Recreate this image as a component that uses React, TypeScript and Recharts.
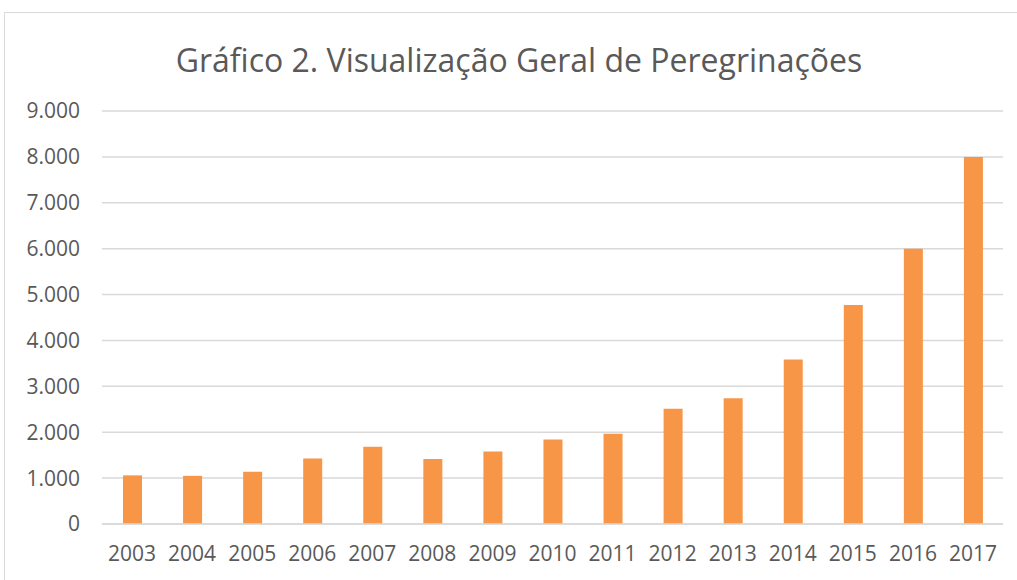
import React from "react";
import { BarChart, Bar, XAxis, YAxis, CartesianGrid } from "recharts";

const years = ["2003", "2004", "2005", "2006", "2007", "2008", "2009", "2010", "2011", "2012", "2013", "2014", "2015", "2016", "2017"];
const peregrinacoes = [1060, 1050, 1140, 1430, 1685, 1415, 1580, 1840, 1965, 2510, 2740, 3585, 4775, 6000, 8000];
const yTicks = [0, 1000, 2000, 3000, 4000, 5000, 6000, 7000, 8000, 9000];
const title = "Gráfico 2. Visualização Geral de Peregrinações";

const data = years.map((y, i) => ({ year: y, value: peregrinacoes[i] }));

const fmt = (v: number) => v.toString().replace(/\B(?=(\d{3})+(?!\d))/g, ".");

const FONT = "'Open Sans', 'Liberation Sans', sans-serif";
const TEXT = "#595959";

export default function App() {
  return (
    <div style={{ position: "absolute", left: 0, top: 0, width: 1017, height: 580, overflow: "hidden", background: "#fff" }}>
      <div style={{ position: "absolute", left: 4, top: 12, width: 1100, height: 700, borderTop: "1.5px solid #d9d9d9", borderLeft: "1.5px solid #d9d9d9", boxSizing: "border-box" }} />
      <svg style={{ position: "absolute", left: 0, top: 0 }} width={1017} height={100}>
        <text x={519} y={72} textAnchor="middle" fontFamily={FONT} fontSize={32} fill={TEXT}>{title}</text>
      </svg>
      <div style={{ position: "absolute", left: 0, top: 0 }}>
        <BarChart width={1017} height={580} data={data} margin={{ top: 111, right: 14, bottom: 26, left: 0 }} barSize={19}>
          <CartesianGrid vertical={false} stroke="#d9d9d9" strokeWidth={1.5} />
          <XAxis
            dataKey="year"
            height={30}
            tickLine={false}
            tickSize={0}
            tickMargin={22}
            axisLine={{ stroke: "#d9d9d9", strokeWidth: 1.5 }}
            tick={{ fill: TEXT, fontSize: 21, fontFamily: FONT }}
            interval={0}
          />
          <YAxis
            width={102}
            domain={[0, 9000]}
            ticks={yTicks}
            tickFormatter={fmt}
            axisLine={false}
            tickLine={false}
            tickSize={0}
            tickMargin={22}
            tick={{ fill: TEXT, fontSize: 21, fontFamily: FONT }}
            interval={0}
          />
          <Bar dataKey="value" fill="#F79646" isAnimationActive={false} />
        </BarChart>
      </div>
    </div>
  );
}
